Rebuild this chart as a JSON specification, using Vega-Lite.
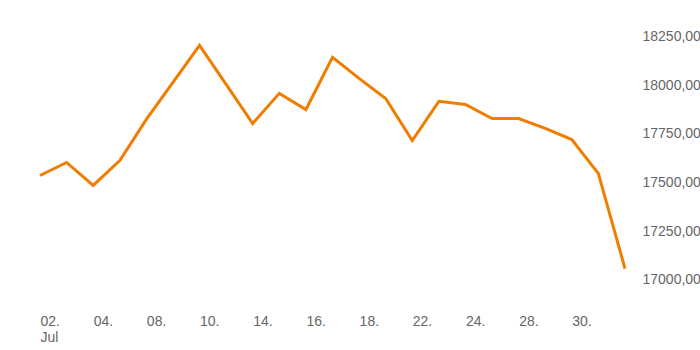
{
  "$schema": "https://vega.github.io/schema/vega-lite/v6.json",
  "width": 585,
  "height": 292,
  "autosize": {"type": "none"},
  "padding": {"left": 40, "top": 12, "right": 75, "bottom": 46},
  "config": {"view": {"stroke": null}, "font": "Liberation Sans"},
  "data": {"values": [
    {"d": "2025-07-02", "v": 17535},
    {"d": "2025-07-03", "v": 17602},
    {"d": "2025-07-04", "v": 17484},
    {"d": "2025-07-07", "v": 17612},
    {"d": "2025-07-08", "v": 17823},
    {"d": "2025-07-09", "v": 18013},
    {"d": "2025-07-10", "v": 18204},
    {"d": "2025-07-11", "v": 18003},
    {"d": "2025-07-14", "v": 17802},
    {"d": "2025-07-15", "v": 17957},
    {"d": "2025-07-16", "v": 17874},
    {"d": "2025-07-17", "v": 18142},
    {"d": "2025-07-18", "v": 18034},
    {"d": "2025-07-21", "v": 17931},
    {"d": "2025-07-22", "v": 17715},
    {"d": "2025-07-23", "v": 17916},
    {"d": "2025-07-24", "v": 17900},
    {"d": "2025-07-25", "v": 17828},
    {"d": "2025-07-28", "v": 17828},
    {"d": "2025-07-29", "v": 17777},
    {"d": "2025-07-30", "v": 17720},
    {"d": "2025-07-31", "v": 17545},
    {"d": "2025-08-01", "v": 17057}
  ]},
  "mark": {"type": "line", "color": "#f07d00", "strokeWidth": 3, "strokeJoin": "miter"},
  "encoding": {
    "x": {
      "field": "d", "type": "ordinal", "sort": null,
      "scale": {"padding": 0},
      "axis": {
        "title": null, "domain": false, "ticks": false, "grid": false,
        "labelAngle": 0, "labelAlign": "left", "labelBaseline": "top",
        "labelPadding": 10, "labelFontSize": 14, "labelColor": "#666666",
        "labelLineHeight": 16,
        "values": ["2025-07-02","2025-07-04","2025-07-08","2025-07-10","2025-07-14","2025-07-16","2025-07-18","2025-07-22","2025-07-24","2025-07-28","2025-07-30"],
        "labelExpr": "datum.value == '2025-07-02' ? ['02.', 'Jul'] : slice(datum.value, 8, 10) + '.'"
      }
    },
    "y": {
      "field": "v", "type": "quantitative",
      "scale": {"domain": [16875, 18375], "nice": false, "zero": false},
      "axis": {
        "title": null, "orient": "right", "domain": false, "ticks": false, "grid": false,
        "values": [17000, 17250, 17500, 17750, 18000, 18250],
        "labelExpr": "replace(format(datum.value, '.2f'), '.', ',')",
        "labelFontSize": 14, "labelColor": "#666666", "labelPadding": 17,
        "labelAlign": "left", "labelBaseline": "middle"
      }
    }
  }
}
